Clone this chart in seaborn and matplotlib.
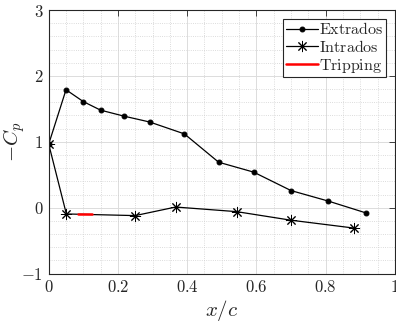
import matplotlib
matplotlib.use("Agg")
import matplotlib.pyplot as plt
from matplotlib.ticker import MultipleLocator, FixedLocator
import seaborn as sns
import pandas as pd

# pressure coefficient data
x_extrados = [0.0, 0.05, 0.10, 0.15, 0.217, 0.292, 0.392, 0.491, 0.592, 0.70, 0.808, 0.917]
cp_extrados = [0.965, 1.79, 1.61, 1.48, 1.39, 1.30, 1.12, 0.69, 0.54, 0.26, 0.10, -0.08]

x_intrados = [0.0, 0.051, 0.25, 0.367, 0.543, 0.70, 0.883]
cp_intrados = [0.965, -0.095, -0.12, 0.01, -0.06, -0.19, -0.31]

x_tripping = [0.085, 0.125]
cp_tripping = [-0.10, -0.10]

x_ticks = [0, 0.2, 0.4, 0.6, 0.8, 1]
x_ticklabels = ["0", "0.2", "0.4", "0.6", "0.8", "1"]
y_ticks = [-1, 0, 1, 2, 3]
y_ticklabels = ["-1", "0", "1", "2", "3"]

sns.set_style("white")
plt.rcParams["mathtext.fontset"] = "cm"
plt.rcParams["font.family"] = ["DejaVu Serif"]

df_ext = pd.DataFrame({"x": x_extrados, "cp": cp_extrados})
df_int = pd.DataFrame({"x": x_intrados, "cp": cp_intrados})
df_trip = pd.DataFrame({"x": x_tripping, "cp": cp_tripping})

fig = plt.figure(figsize=(3.96, 3.23), dpi=100)
ax = fig.add_axes([0.123, 0.153, 0.874, 0.816])

sns.lineplot(data=df_ext, x="x", y="cp", ax=ax, color="black", lw=0.9,
             marker="o", markersize=3.5, markeredgecolor="black",
             label=r"$\mathrm{Extrados}$")
sns.lineplot(data=df_int, x="x", y="cp", ax=ax, color="black", lw=0.9,
             marker=(8, 2, 0), markersize=8, markeredgewidth=0.7,
             markeredgecolor="black", label=r"$\mathrm{Intrados}$")
sns.lineplot(data=df_trip, x="x", y="cp", ax=ax, color="red", lw=1.8,
             label=r"$\mathrm{Tripping}$")

ax.set_xlim(0, 1)
ax.set_ylim(-1, 3)
ax.xaxis.set_major_locator(FixedLocator(x_ticks))
ax.set_xticklabels(["$" + t + "$" for t in x_ticklabels])
ax.yaxis.set_major_locator(FixedLocator(y_ticks))
ax.set_yticklabels(["$" + t + "$" for t in y_ticklabels])
ax.xaxis.set_minor_locator(MultipleLocator(0.05))
ax.yaxis.set_minor_locator(MultipleLocator(0.2))

ax.grid(which="major", color="#dcdcdc", lw=0.7)
ax.grid(which="minor", color="#d0d0d0", lw=0.6, ls=":")
ax.set_axisbelow(True)

for s in ax.spines.values():
    s.set_color("#262626")
    s.set_linewidth(0.8)
ax.tick_params(which="major", direction="in", length=4, width=0.6,
               top=True, right=True, labelsize=12, colors="#262626",
               pad=4)
ax.tick_params(which="minor", length=0)

ax.set_xlabel(r"$x/c$", fontsize=15, labelpad=1)
ax.set_ylabel(r"$-C_p$", fontsize=15)
ax.yaxis.set_label_coords(-0.063, 0.5)

leg = ax.legend(loc="upper right", fontsize=11.5, fancybox=False,
                framealpha=1, edgecolor="#262626", handlelength=2.0,
                handletextpad=0.1, borderpad=0.15, labelspacing=0.05,
                borderaxespad=0.55)
leg.get_frame().set_linewidth(0.8)

fig.savefig("out.png", dpi=100)
